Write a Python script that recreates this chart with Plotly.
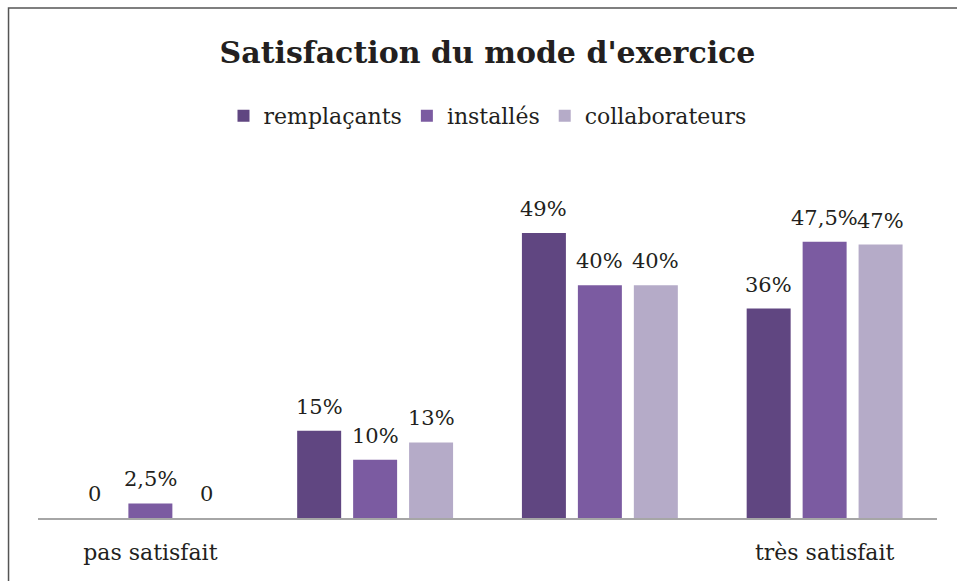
import plotly.graph_objects as go

# positions des catégories (axe numérique, libellés via ticktext)
categories = [0, 1, 2, 3]
tick_labels = ["pas satisfait", "", "", "très satisfait"]

remplacants = [0, 15, 49, 36]
installes = [2.5, 10, 40, 47.5]
collaborateurs = [0, 13, 40, 47]

remplacants_txt = ["0", "15%", "49%", "36%"]
installes_txt = ["2,5%", "10%", "40%", "47,5%"]
collaborateurs_txt = ["0", "13%", "40%", "47%"]

FONT = "DejaVu Serif, serif"
TXT = "#231f20"
BARGAP = 0.253

series = [
    ("remplaçants", remplacants, remplacants_txt, "#604681"),
    ("installés", installes, installes_txt, "#7b5ba1"),
    ("collaborateurs", collaborateurs, collaborateurs_txt, "#b5abc8"),
]

fig = go.Figure()
slot = (1 - BARGAP) / len(series)
for i, (name, vals, txt, col) in enumerate(series):
    fig.add_trace(go.Bar(
        x=categories, y=vals, name=name,
        marker=dict(color=col, line=dict(width=0)),
    ))
    # étiquettes de valeur au-dessus de chaque barre du groupe
    off = (i - (len(series) - 1) / 2) * slot
    for c, v, s in zip(categories, vals, txt):
        fig.add_annotation(x=c + off, y=v, text=s, showarrow=False,
                           yanchor="bottom", yshift=10,
                           font=dict(family=FONT, size=21, color=TXT))

fig.update_layout(
    width=957, height=581,
    paper_bgcolor="white", plot_bgcolor="white",
    margin=dict(l=37.5, r=19.5, t=169, b=63),
    barmode="group", bargap=BARGAP, bargroupgap=0.214,
    font=dict(family=FONT, color=TXT),
    title=dict(text="<b>Satisfaction du mode d'exercice</b>",
               x=0.5, xref="paper", xanchor="center",
               y=(581 - 52) / 581, yref="container", yanchor="middle",
               font=dict(family=FONT, size=30, color=TXT)),
    legend=dict(orientation="h", x=0.5, xanchor="center", xref="paper",
                y=(581 - 116) / 581, yref="container", yanchor="middle",
                font=dict(family=FONT, size=22, color=TXT),
                itemwidth=30, tracegroupgap=0),
    showlegend=True,
)

fig.update_xaxes(
    tickvals=categories, ticktext=tick_labels, range=[-0.5, 3.5],
    showline=True, linecolor="#a6a6a6", linewidth=1.5,
    showgrid=False, zeroline=False, ticks="",
    ticklabelstandoff=14,
    tickfont=dict(family=FONT, size=22, color=TXT),
)
fig.update_yaxes(range=[0, 60], visible=False)

# cadre du graphique (coupé à droite et en bas)
fig.add_shape(type="rect", xref="paper", yref="paper",
              x0=-29.5 / 900, x1=1.03, y0=-0.2, y1=510 / 349,
              line=dict(color="#555555", width=1.5), layer="below")

fig.write_html("out.html", config={"displayModeBar": False},
               post_script="document.body.style.margin='0';")
